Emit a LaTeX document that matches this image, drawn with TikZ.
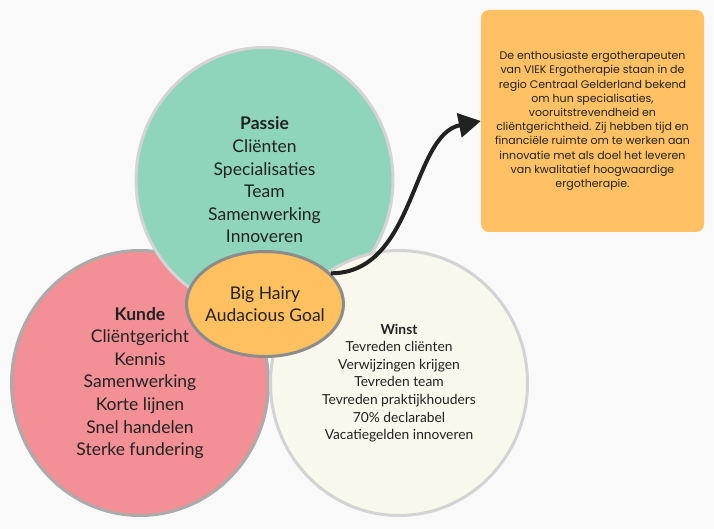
\documentclass[tikz,border=0pt]{standalone}
\usepackage{fontspec}
\setmainfont{Lato}
\newfontfamily\notefont{Poppins}
\usetikzlibrary{shapes.geometric,arrows.meta}
\definecolor{bgcol}{HTML}{F9F9F9}
\definecolor{passiefill}{HTML}{8FD5BC}
\definecolor{passieline}{HTML}{D4D4D4}
\definecolor{kundefill}{HTML}{F29096}
\definecolor{kundeline}{HTML}{ABABAB}
\definecolor{winstfill}{HTML}{F8F8EC}
\definecolor{winstline}{HTML}{D3D3D3}
\definecolor{goalfill}{HTML}{FFC05F}
\definecolor{goalline}{HTML}{8C8C8C}
\definecolor{notefill}{HTML}{FFC163}
\definecolor{inkcol}{HTML}{222222}

\begin{document}
\begin{tikzpicture}[x=1pt,y=-1pt,
  bubble/.style={ellipse, line width=3pt, minimum width=257pt, minimum height=265pt, inner sep=0pt, align=center, text=inkcol, font=\fontsize{17.5}{22.6}\selectfont},
  goalarrow/.style={line width=4pt, draw=inkcol, -{Triangle[length=22pt,width=24pt]}}]
\useasboundingbox (0,0) rectangle (714,529);
\fill[bgcol] (0,0) rectangle (714,529);
\node[bubble, fill=kundefill, draw=kundeline] (kunde) at (140,383) {\textbf{Kunde}\\Cliëntgericht\\Kennis\\Samenwerking\\Korte lijnen\\Snel handelen\\Sterke fundering};
\node[bubble, fill=passiefill, draw=passieline] (passie) at (264.5,180) {\textbf{Passie}\\Cliënten\\Specialisaties\\Team\\Samenwerking\\Innoveren};
\node[bubble, fill=winstfill, draw=winstline, font=\fontsize{13.8}{17.6}\selectfont] (winst) at (399,383) {\textbf{Winst}\\Tevreden cliënten\\Verwijzingen krijgen\\Tevreden team\\Tevreden praktijkhouders\\70\% declarabel\\Vacatiegelden innoveren};
\node[ellipse, fill=goalfill, draw=goalline, line width=3pt, minimum width=157pt, minimum height=105pt, inner xsep=-9pt, inner ysep=0pt, align=center, text=inkcol, font=\fontsize{17.5}{22}\selectfont] (goal) at (265,304) {Big Hairy\\Audacious Goal};
\node[rectangle, rounded corners=8pt, fill=notefill, minimum width=223pt, minimum height=222pt, align=center, text=inkcol, font=\notefont\fontsize{11}{14.2}\selectfont] (note) at (592.5,121) {De enthousiaste ergotherapeuten\\van VIEK Ergotherapie staan in de\\regio Centraal Gelderland bekend\\om hun specialisaties,\\vooruitstrevendheid en\\cliëntgerichtheid. Zij hebben tijd en\\financiële ruimte om te werken aan\\innovatie met als doel het leveren\\van kwalitatief hoogwaardige\\ergotherapie.};
\draw[goalarrow] (goal.25) .. controls +(85,0) and +(-70,14) .. (note.west);
\end{tikzpicture}
\end{document}
